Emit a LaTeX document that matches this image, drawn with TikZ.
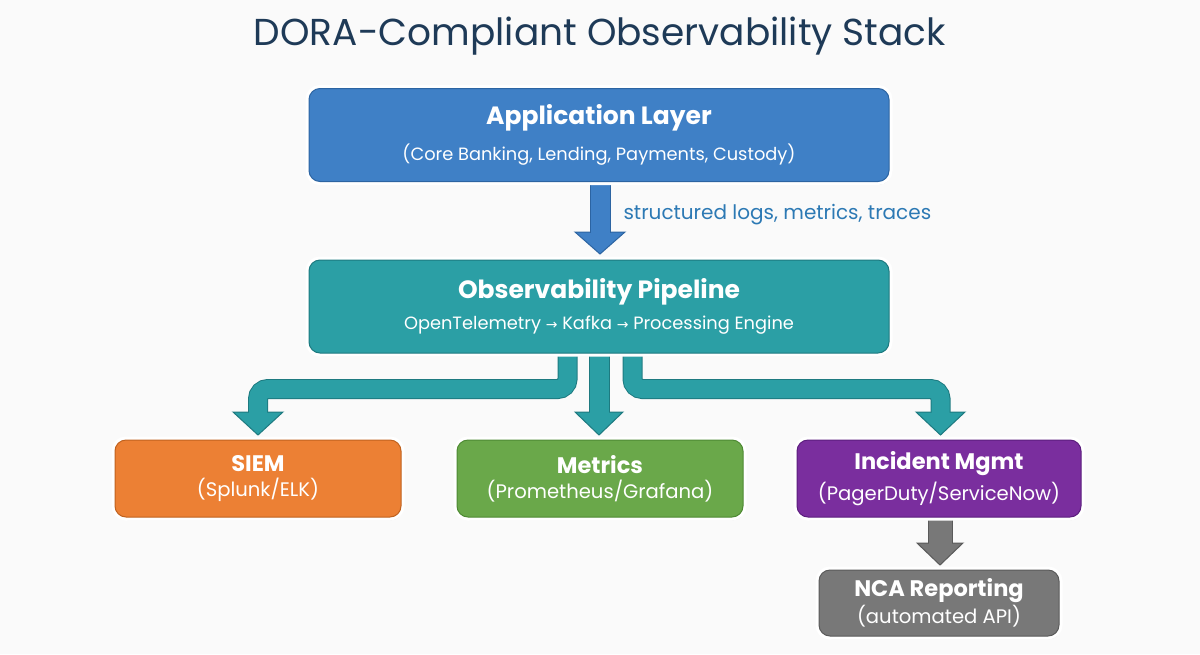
\documentclass[tikz,border=0pt]{standalone}
\usepackage{fontspec}
\setmainfont{Poppins}
\newfontfamily\symfont{DejaVu Sans}
\usetikzlibrary{shadows,calc}
\definecolor{bgc}{HTML}{FAFAFA}
\definecolor{titlec}{HTML}{1E3A57}
\definecolor{appblue}{HTML}{3F80C6}
\definecolor{appedge}{HTML}{2C64A2}
\definecolor{tealc}{HTML}{2B9FA5}
\definecolor{tealedge}{HTML}{1D7A80}
\definecolor{orangec}{HTML}{EC8034}
\definecolor{orangeedge}{HTML}{C0621F}
\definecolor{greenc}{HTML}{6AA84A}
\definecolor{greenedge}{HTML}{4E8A33}
\definecolor{purplec}{HTML}{7A2E9E}
\definecolor{purpleedge}{HTML}{5C1E7E}
\definecolor{grayc}{HTML}{787878}
\definecolor{grayedge}{HTML}{5A5A5A}
\definecolor{labelc}{HTML}{2C79B4}
\newcommand{\bigT}[1]{{\fontsize{25}{30}\selectfont\bfseries #1}}
\newcommand{\bigS}[1]{{\fontsize{17.8}{24}\selectfont #1}}
\newcommand{\smT}[1]{{\fontsize{22.5}{26}\selectfont\bfseries #1}}
\newcommand{\smS}[1]{{\fontsize{19.6}{24}\selectfont #1}}
\tikzset{
  card/.style={rectangle, rounded corners=11pt, text=white, align=center,
    drop shadow={shadow xshift=1.5pt, shadow yshift=-3pt, opacity=0.28, fill=black!70},
    preaction={draw=white, line width=7pt},
    line width=1pt, inner sep=0pt},
  shaft/.style={line width=#1, rounded corners=10pt},
  headtri/.style={line width=1pt, line join=miter},
}
\begin{document}
\begin{tikzpicture}[x=1pt,y=-1pt]
\useasboundingbox (0,0) rectangle (1200,654);
\fill[bgc] (0,0) rectangle (1200,654);

\node[text=titlec, font=\fontsize{37.5}{44}\selectfont] (title) at (600,36) {DORA-Compliant Observability Stack};

% ---------- arrows (drawn beneath boxes) ----------
% blue arrow
\coordinate (ba) at (600,182);
\filldraw[fill=appblue, draw=appedge, headtri] (575,232) -- (625,232) -- (600,254) -- cycle;
\draw[appedge, line width=21pt] (ba) -- (600,233);
\draw[appblue, line width=19pt] (600,180) -- (600,233.5);

% teal branches
\filldraw[fill=tealc, draw=tealedge, headtri] (233,412) -- (283,412) -- (258,435) -- cycle;
\filldraw[fill=tealc, draw=tealedge, headtri] (575,412) -- (623,412) -- (599,435) -- cycle;
\filldraw[fill=tealc, draw=tealedge, headtri] (916,412) -- (965,412) -- (940.5,435) -- cycle;
\draw[tealedge, shaft=20pt] (567.5,345) -- (567.5,389) -- (258,389) -- (258,412);
\draw[tealedge, shaft=20pt] (632.5,345) -- (632.5,389) -- (940.5,389) -- (940.5,412);
\draw[tealedge, line width=21pt] (599,345) -- (599,412);
\draw[tealc, shaft=18pt] (567.5,345) -- (567.5,389) -- (258,389) -- (258,413);
\draw[tealc, shaft=18pt] (632.5,345) -- (632.5,389) -- (940.5,389) -- (940.5,413);
\draw[tealc, line width=19pt] (599,345) -- (599,413);

% gray arrow
\filldraw[fill=grayc, draw=grayedge, headtri] (917,543) -- (963,543) -- (940,565) -- cycle;
\draw[grayedge, line width=25pt] (940,515) -- (940,543);
\draw[grayc, line width=23pt] (940,515) -- (940,544);

% ---------- boxes ----------
\node[card, fill=appblue, draw=appedge, minimum width=580pt, minimum height=93pt] (app) at (599,135)
  {\bigT{Application Layer}\\[12pt]\bigS{(Core Banking, Lending, Payments, Custody)}};
\node[card, fill=tealc, draw=tealedge, minimum width=580pt, minimum height=93pt] (pipe) at (599,306.5)
  {\bigT{Observability Pipeline}\\[10pt]\bigS{OpenTelemetry {\symfont\fontsize{14}{20}\selectfont →} Kafka {\symfont\fontsize{14}{20}\selectfont →} Processing Engine}};
\node[card, fill=orangec, draw=orangeedge, minimum width=286pt, minimum height=77pt] (siem) at (258,478.5)
  {\smT{SIEM}\\[5pt]\smS{(Splunk/ELK)}};
\node[card, fill=greenc, draw=greenedge, minimum width=286pt, minimum height=77pt] (metrics) at (600,478.5)
  {\smT{Metrics}\\[5pt]\smS{(Prometheus/Grafana)}};
\node[card, fill=purplec, draw=purpleedge, minimum width=284pt, minimum height=77pt] (incident) at (939,478.5)
  {\smT{Incident Mgmt}\\[5pt]\smS{(PagerDuty/ServiceNow)}};
\node[card, fill=grayc, draw=grayedge, minimum width=240pt, minimum height=66pt] (nca) at (939,603)
  {\smT{NCA Reporting}\\[2pt]\smS{(automated API)}};

\node[text=labelc, anchor=west, font=\fontsize{20}{24}\selectfont] (lbl) at (620,215) {structured logs, metrics, traces};
\end{tikzpicture}
\end{document}
